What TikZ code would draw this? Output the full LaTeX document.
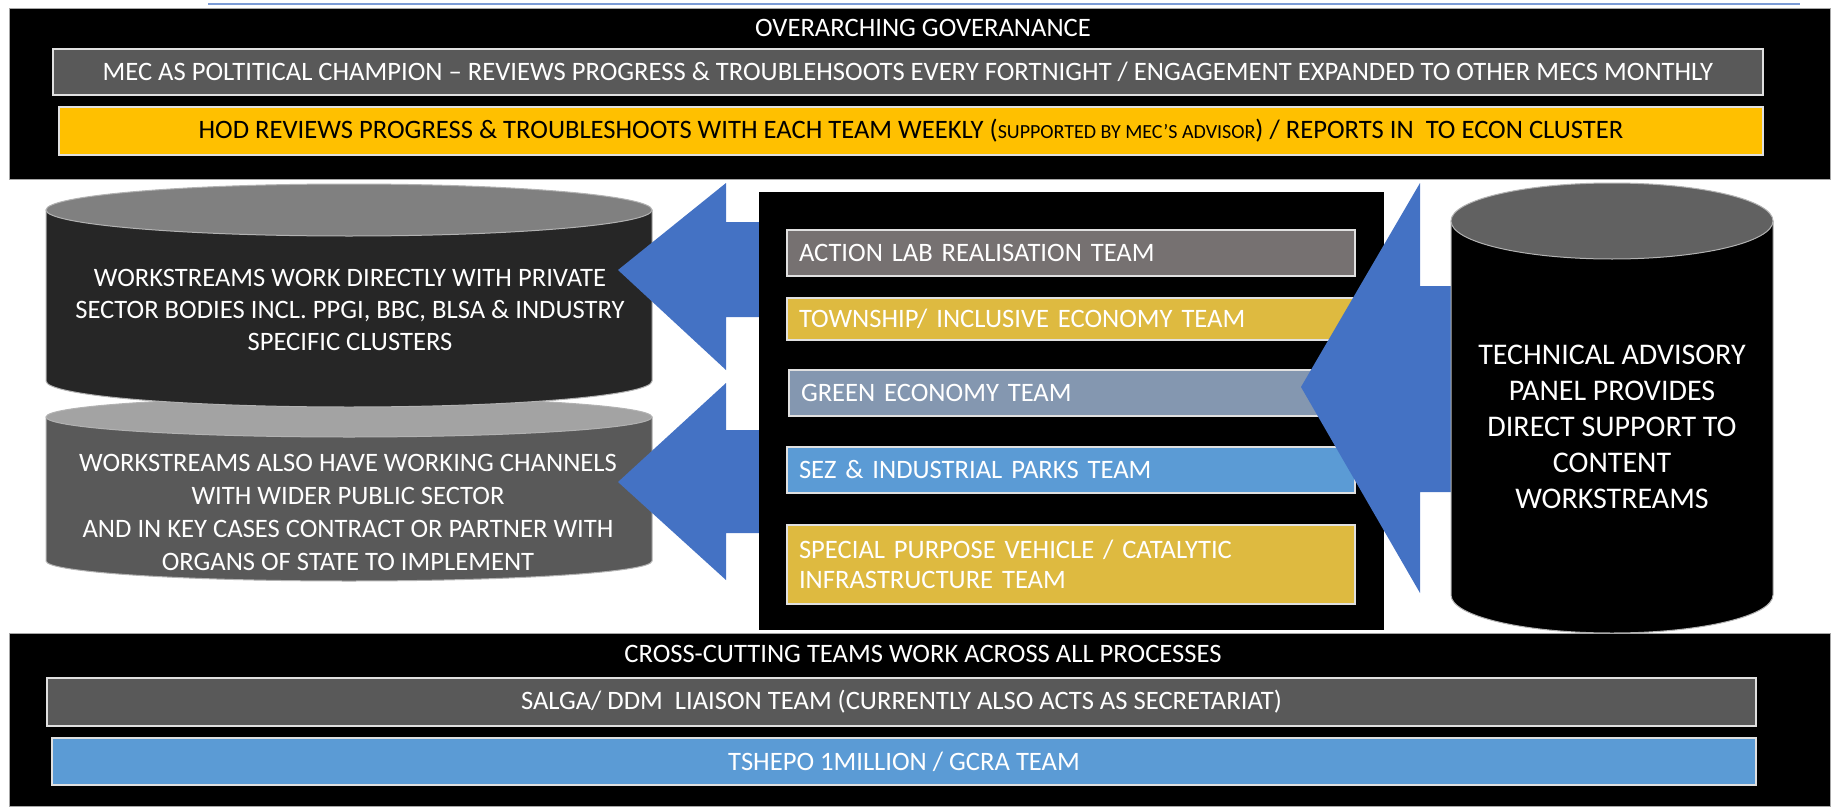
\documentclass[tikz,border=0pt]{standalone}
\usepackage{fontspec}
\setmainfont{Carlito}
\definecolor{barGrey}{HTML}{595959}
\definecolor{hodGold}{HTML}{FFC000}
\definecolor{teamGold}{HTML}{DEBA40}
\definecolor{labGrey}{HTML}{767171}
\definecolor{greenTeam}{HTML}{8497B0}
\definecolor{sezBlue}{HTML}{5B9BD5}
\definecolor{arrowBlue}{HTML}{4472C4}
\definecolor{cylDark}{HTML}{262626}
\definecolor{cylTopA}{HTML}{808080}
\definecolor{cylTopB}{HTML}{A3A3A3}
\definecolor{cylTopC}{HTML}{616161}
\tikzset{
  band/.style = {fill = black, draw = black!35, line width = 0.5pt},
  bar/.style = {draw = black!12, line width = 1pt, inner sep = 0pt,
                font = \fontsize{13.3}{16}\selectfont, text = white},
  teambar/.style = {bar, anchor = west, text width = 272pt, inner xsep = 6pt,
                    align = left, minimum height = 23pt},
  cylside/.style = {draw = black!30, line width = 0.5pt},
  cyltext/.style = {text = white, align = center, font = \fontsize{13.3}{15.8}\selectfont}
}
\begin{document}
\begin{tikzpicture}[x = 0.5pt, y = 0.5pt]
    \useasboundingbox (0,0) rectangle (1832,811);
    \draw[arrowBlue!70, line width = 0.6pt] (208,807) -- (1800,807);
    % governance band
    \fill[band] (9,632) rectangle (1830,802);
    \node[text = white, font = \fontsize{13.3}{16}\selectfont] (overarch) at (923,783) {OVERARCHING GOVERANANCE};
    \node[bar, fill = barGrey, minimum width = 855pt, minimum height = 23pt] (mec) at (908,739)
        {MEC AS POLTITICAL CHAMPION – REVIEWS PROGRESS \& TROUBLEHSOOTS EVERY FORTNIGHT / ENGAGEMENT EXPANDED TO OTHER MECS MONTHLY};
    \node[bar, fill = hodGold, text = black, minimum width = 852pt, minimum height = 24pt] (hod) at (911,680)
        {HOD REVIEWS PROGRESS \& TROUBLESHOOTS WITH EACH TEAM WEEKLY ({\fontsize{10}{12}\selectfont SUPPORTED BY MEC’S ADVISOR}) / REPORTS IN\ \ TO ECON CLUSTER};
    % left cylinders
    \begin{scope}[cylside]
        \filldraw[fill = barGrey] (46,394) -- (46,250) arc[start angle = 180, end angle = 360, x radius = 151.5pt, y radius = 10pt] -- (652,394) -- cycle;
        \filldraw[fill = cylTopB] (349,394) ellipse[x radius = 151.5pt, y radius = 10pt];
        \filldraw[fill = cylDark] (46,601) -- (46,430) arc[start angle = 180, end angle = 360, x radius = 151.5pt, y radius = 13pt] -- (652,601) -- cycle;
        \filldraw[fill = cylTopA] (349,601) ellipse[x radius = 151.5pt, y radius = 13pt];
    \end{scope}
    \node[cyltext] (private) at (350,501)
        {WORKSTREAMS WORK DIRECTLY WITH PRIVATE\\SECTOR BODIES INCL. PPGI, BBC, BLSA \& INDUSTRY\\SPECIFIC CLUSTERS};
    \node[cyltext, font = \fontsize{13.3}{16.5}\selectfont] (public) at (348,299)
        {WORKSTREAMS ALSO HAVE WORKING CHANNELS\\WITH WIDER PUBLIC SECTOR\\AND IN KEY CASES CONTRACT OR PARTNER WITH\\ORGANS OF STATE TO IMPLEMENT};
    % arrows out of the team panel
    \fill[arrowBlue] (618,541) -- (726,628) -- (726,589) -- (780,589) -- (780,494) -- (726,494) -- (726,441) -- cycle;
    \fill[arrowBlue] (618,329) -- (726,428) -- (726,381) -- (780,381) -- (780,278) -- (726,278) -- (726,231) -- cycle;
    % content teams
    \fill[black] (759,181) rectangle (1384,619);
    \node[teambar, fill = labGrey] (labteam) at (786,558) {ACTION LAB REALISATION TEAM};
    \node[teambar, fill = teamGold, minimum height = 21pt] (township) at (786,492) {TOWNSHIP/ INCLUSIVE ECONOMY TEAM};
    \node[teambar, fill = greenTeam] (green) at (788,418) {GREEN ECONOMY TEAM};
    \node[teambar, fill = sezBlue] (sez) at (786,341) {SEZ \& INDUSTRIAL PARKS TEAM};
    \node[teambar, fill = teamGold, minimum height = 39.5pt, font = \fontsize{13.3}{15}\selectfont] (spv) at (786,247)
        {SPECIAL PURPOSE VEHICLE / CATALYTIC\\INFRASTRUCTURE TEAM};
    % advisory panel
    \fill[arrowBlue] (1301,424) -- (1420,628) -- (1420,525) -- (1500,525) -- (1500,319) -- (1420,319) -- (1420,218) -- cycle;
    \begin{scope}[cylside]
        \filldraw[fill = black] (1451,590) -- (1451,216) arc[start angle = 180, end angle = 360, x radius = 80.5pt, y radius = 19pt] -- (1773,590) -- cycle;
        \filldraw[fill = cylTopC] (1612,590) ellipse[x radius = 80.5pt, y radius = 19pt];
    \end{scope}
    \node[cyltext, font = \fontsize{15}{18}\selectfont] (advisory) at (1612,384)
        {TECHNICAL ADVISORY\\PANEL PROVIDES\\DIRECT SUPPORT TO\\CONTENT\\WORKSTREAMS};
    % cross-cutting band
    \fill[band] (9,5) rectangle (1830,178);
    \node[text = white, font = \fontsize{13.3}{16}\selectfont] (crosscut) at (923,157) {CROSS-CUTTING TEAMS WORK ACROSS ALL PROCESSES};
    \node[bar, fill = barGrey, minimum width = 854.5pt, minimum height = 24pt] (salga) at (901.5,109)
        {SALGA/ DDM\ \ LIAISON TEAM (CURRENTLY ALSO ACTS AS SECRETARIAT)};
    \node[bar, fill = sezBlue, minimum width = 852pt, minimum height = 23.5pt] (tshepo) at (904,49.5)
        {TSHEPO 1MILLION / GCRA TEAM};
\end{tikzpicture}
\end{document}
